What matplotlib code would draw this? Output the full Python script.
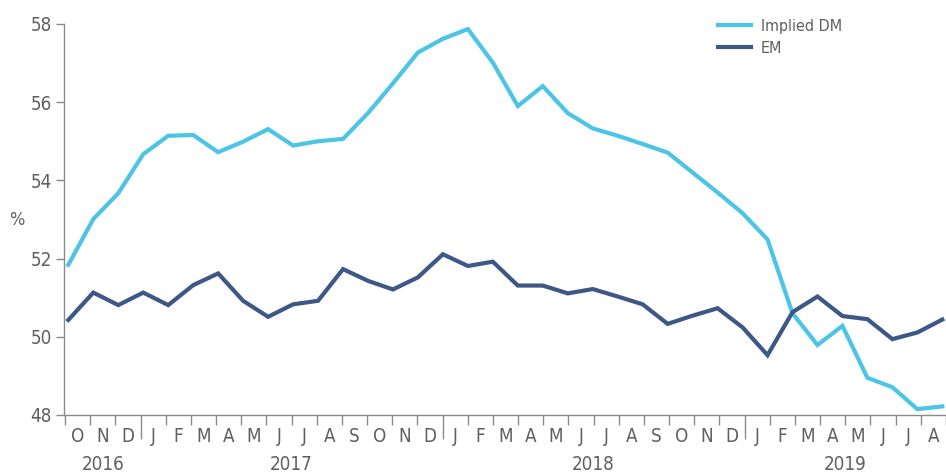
import matplotlib.pyplot as plt
from matplotlib import transforms

# month-end readings, Oct 2016 .. Sep 2019
implied_dm = [51.84, 53.01, 53.67, 54.67, 55.14, 55.16, 54.72, 54.99, 55.31, 54.89,
              55.00, 55.06, 55.72, 56.48, 57.27, 57.62, 57.87, 57.01, 55.90, 56.41,
              55.72, 55.33, 55.14, 54.93, 54.71, 54.20, 53.69, 53.16, 52.49, 50.60,
              49.79, 50.28, 48.95, 48.71, 48.15, 48.22]
em = [50.43, 51.13, 50.81, 51.13, 50.81, 51.32, 51.62, 50.92, 50.51, 50.83,
      50.92, 51.73, 51.43, 51.21, 51.52, 52.11, 51.81, 51.92, 51.31, 51.31,
      51.11, 51.22, 51.03, 50.83, 50.33, 50.54, 50.73, 50.24, 49.53, 50.63,
      51.03, 50.53, 50.45, 49.94, 50.11, 50.44]
month_labels = ["O", "N", "D",
                "J", "F", "M", "A", "M", "J", "J", "A", "S", "O", "N", "D",
                "J", "F", "M", "A", "M", "J", "J", "A", "S", "O", "N", "D",
                "J", "F", "M", "A", "M", "J", "J", "A"]
years = ["2016", "2017", "2018", "2019"]
year_centres = [1.5, 9, 21, 31]
year_starts = [3, 15, 27]

plt.rcParams['font.family'] = ['DejaVu Sans']
plt.rcParams['font.stretch'] = 'condensed'
grey = "#5f5f5f"
axis_grey = "#8a8a8a"
cyan = "#4cc4e6"
navy = "#3d5787"

fig = plt.figure(figsize=(9.46, 4.74), dpi=100)
ax = fig.add_axes([0.068, 0.1245, 0.932, 0.825])

x = list(range(len(em)))
ax.plot(x, implied_dm, color=cyan, lw=3.0, label="Implied DM", solid_joinstyle="miter")
ax.plot(x, em, color=navy, lw=3.0, label="EM", solid_joinstyle="miter")

# month boundaries sit a touch off the data points in the original
def tick_pos(i):
    return (25.43 * i - 3.3) / 25.23

ax.set_xlim(-0.16, 34.79)
ax.set_ylim(48, 58)
ax.set_yticks([48, 50, 52, 54, 56, 58])

ax.set_xticks([tick_pos(i) for i in range(36) if i not in year_starts])
ax.set_xticks([tick_pos(i) for i in year_starts], minor=True)
ax.set_xticklabels([])
ax.tick_params(axis='x', which='major', length=7, width=1, color=axis_grey, direction='out')
ax.tick_params(axis='x', which='minor', length=17, width=1, color=axis_grey, direction='out')
ax.tick_params(axis='y', length=6, width=1, color=axis_grey, labelsize=13.5,
               labelcolor=grey, pad=3)

for s in ["top", "right"]:
    ax.spines[s].set_visible(False)
for s in ["left", "bottom"]:
    ax.spines[s].set_color(axis_grey)
    ax.spines[s].set_linewidth(1)

trans = transforms.blended_transform_factory(ax.transData, fig.transFigure)
for i, lab in enumerate(month_labels):
    mid = (tick_pos(i) + tick_pos(i + 1)) / 2
    ax.text(mid, 1 - 437 / 474, lab, transform=trans, ha="center", va="center",
            fontsize=13.5, color=grey, clip_on=False)
for yr, c in zip(years, year_centres):
    ax.text(tick_pos(c), 1 - 465 / 474, yr, transform=trans, ha="center", va="center",
            fontsize=13.5, color=grey, clip_on=False)

fig.text(17 / 946, 1 - 220 / 474, "%", ha="center", va="center", fontsize=13, color=grey)

leg = ax.legend(loc="upper left", bbox_to_anchor=(0.725, 1.05), frameon=False,
                fontsize=11.5, handlelength=2.1, handletextpad=0.6, labelspacing=0.45)
for t in leg.get_texts():
    t.set_color(grey)

fig.savefig("out.png", dpi=100)
